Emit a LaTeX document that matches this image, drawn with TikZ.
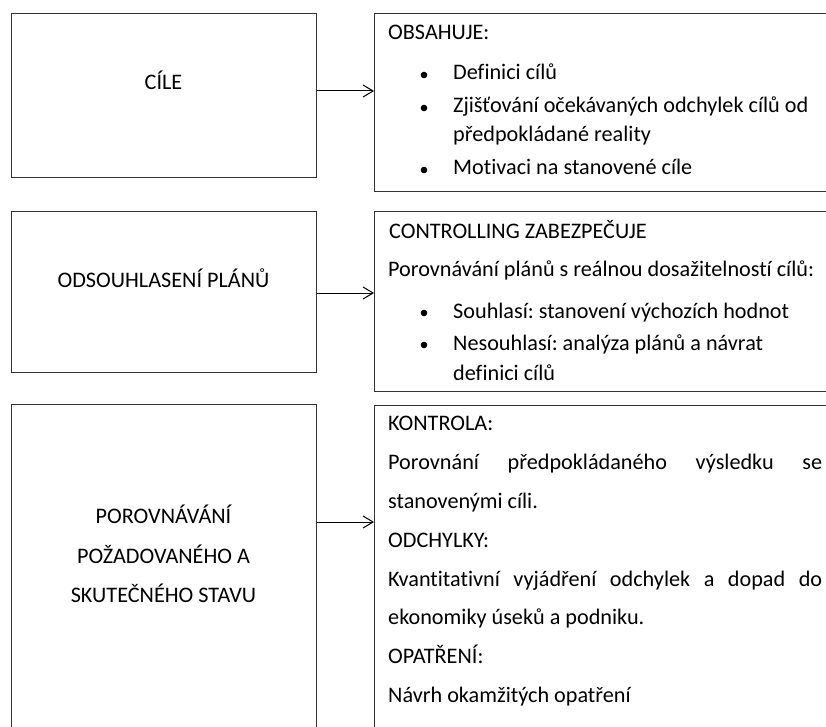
\documentclass[tikz,border=0pt]{standalone}
\usepackage{fontspec}
\setmainfont[Ligatures={NoCommon}]{Carlito}
\usetikzlibrary{arrows.meta}
\frenchspacing
\tikzset{
  box/.style={draw=black!80, line width=1.2pt, anchor=north west, inner sep=0pt},
  txt/.style={anchor=base west, inner sep=0pt},
  title/.style={anchor=base, inner sep=0pt},
}
\begin{document}
\begin{tikzpicture}[x=1pt, y=-1pt, >={Straight Barb[length=10pt,width=12pt]}, font=\fontsize{22.2}{26}\selectfont]
\useasboundingbox (0,0) rectangle (826,727);
\clip (0,0) rectangle (826,727);
% left boxes
\node[box, minimum width=305pt, minimum height=164pt] (cile) at (11,13) {};
\node[box, minimum width=305pt, minimum height=161pt] (plany) at (11,211) {};
\node[box, minimum width=305pt, minimum height=400pt] (stav) at (11,404) {};
\node[title] (cileT) at (163.5,90) {CÍLE};
\node[title] (planyT) at (163.5,287) {ODSOUHLASENÍ PLÁNŮ};
\foreach \y/\ytext in {523/POROVNÁVÁNÍ, 563/POŽADOVANÉHO A, 602/SKUTEČNÉHO STAVU}
	\node[title] (stav\y) at (163.5,\y) {\ytext};
% right boxes
\node[box, minimum width=470pt, minimum height=178pt] (obsah) at (374,13) {};
\node[box, minimum width=470pt, minimum height=180pt] (zajist) at (374,211) {};
\node[box, minimum width=470pt, minimum height=400pt] (kontrola) at (374,405) {};
% arrows
\draw[->, line width=1pt] (cile.east |- 0,91) -- (obsah.west |- 0,91);
\draw[->, line width=1pt] (plany.east |- 0,293) -- (zajist.west |- 0,293);
\draw[->, line width=1pt] (stav.east |- 0,522) -- (kontrola.west |- 0,522);
% OBSAHUJE
\node[txt] (obsahT) at (388,40) {OBSAHUJE:};
\foreach \y/\ytext in {80/Definici cílů, 113/Zjišťování očekávaných odchylek cílů od, 175/Motivaci na stanovené cíle}
{
	\fill (424,\y-5) circle (3.3pt);
	\node[txt] (obsah\y) at (453,\y) {\ytext};
}
\node[txt] (obsah142) at (453,142) {předpokládané reality};
% CONTROLLING
\node[txt] (zajistT) at (389,238) {CONTROLLING ZABEZPEČUJE};
\node[txt] (zajist276) at (388,276) {Porovnávání plánů s reálnou dosažitelností cílů:};
\foreach \y/\ytext in {318/Souhlasí: stanovení výchozích hodnot, 350/Nesouhlasí: analýza plánů a návrat}
{
	\fill (424,\y-5) circle (3.3pt);
	\node[txt] (zajist\y) at (453,\y) {\ytext};
}
\node[txt] (zajist380) at (453,380) {definici cílů};
% KONTROLA
\foreach \y/\ytext in {430/KONTROLA:, 469/{\makebox[434pt][s]{Porovnání předpokládaného výsledku se}}, 508/stanovenými cíli., 547/ODCHYLKY:, 586/{\makebox[434pt][s]{Kvantitativní vyjádření odchylek a dopad do}}, 624/ekonomiky úseků a podniku., 663/OPATŘENÍ:, 702/Návrh okamžitých opatření}
	\node[txt] (kontrola\y) at (388,\y) {\ytext};
\end{tikzpicture}
\end{document}
